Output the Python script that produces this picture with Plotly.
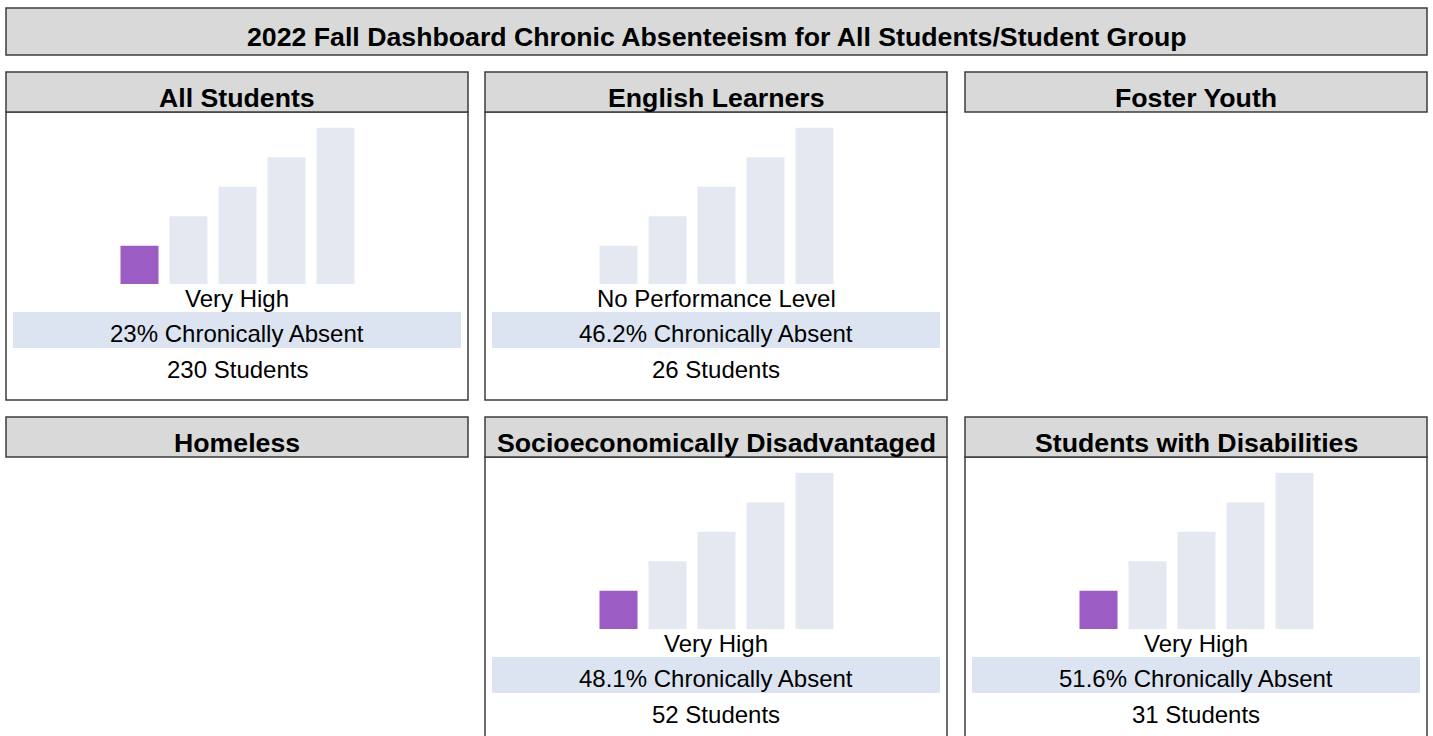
import plotly.graph_objects as go

# ---------------- data ----------------
title_text = "2022 Fall Dashboard Chronic Absenteeism for All Students/Student Group"
groups = ["All Students", "English Learners", "Foster Youth",
          "Homeless", "Socioeconomically Disadvantaged", "Students with Disabilities"]
status_levels = ["Very High", "No Performance Level", None, None, "Very High", "Very High"]
pct_absent = ["23%", "46.2%", None, None, "48.1%", "51.6%"]
n_students = [230, 26, None, None, 52, 31]
highlight_index = [0, None, None, None, 0, 0]
bar_positions = [0, 1, 2, 3, 4]
bar_heights = [1.3, 2.3, 3.3, 4.3, 5.3]

# ---------------- style / layout constants ----------------
W, H = 1433, 736
FONT = "Liberation Sans, Arial, sans-serif"
HEADER_FILL = "#D9D9D9"
BORDER = "#3C3C3C"
BAR_GRAY = "#E4E9F1"
BAR_PURPLE = "#9B5DC4"
BAND = "#DBE4F0"
HEAD_SIZE = 26.7
BODY_SIZE = 24

col_left = [6, 485, 965]
panel_w = 462
row_top = [72, 417]
header_h = 40
body_h = 288
px_per_unit = 29.5
y_max = 5.4


def fx(x):
    return x / W


def fy(y):
    return 1 - y / H


fig = go.Figure()
shapes = []
annotations = []

# overall title box
shapes.append(dict(type="rect", xref="paper", yref="paper",
                   x0=fx(6), x1=fx(1427), y0=fy(55), y1=fy(8),
                   fillcolor=HEADER_FILL, line=dict(color=BORDER, width=1.5), layer="below"))
annotations.append(dict(xref="paper", yref="paper", x=fx(716.5), y=fy(37.5),
                        text="<b>" + title_text + "</b>", showarrow=False,
                        xanchor="center", yanchor="middle",
                        font=dict(family=FONT, size=HEAD_SIZE, color="#000000")))

for i, g in enumerate(groups):
    r, c = divmod(i, 3)
    left = col_left[c]
    top = row_top[r]
    right = left + panel_w
    cx = left + panel_w / 2
    has_data = pct_absent[i] is not None

    if has_data:
        # body box
        shapes.append(dict(type="rect", xref="paper", yref="paper",
                           x0=fx(left), x1=fx(right), y0=fy(top + header_h + body_h), y1=fy(top + header_h),
                           fillcolor="rgba(0,0,0,0)", line=dict(color=BORDER, width=1.5), layer="below"))
        # highlight band
        shapes.append(dict(type="rect", xref="paper", yref="paper",
                           x0=fx(left + 7), x1=fx(right - 7), y0=fy(top + 276), y1=fy(top + 240),
                           fillcolor=BAND, line=dict(width=0), layer="below"))
    # header box
    shapes.append(dict(type="rect", xref="paper", yref="paper",
                       x0=fx(left), x1=fx(right), y0=fy(top + header_h), y1=fy(top),
                       fillcolor=HEADER_FILL, line=dict(color=BORDER, width=1.5), layer="below"))
    annotations.append(dict(xref="paper", yref="paper", x=fx(cx), y=fy(top + 25.5),
                            text="<b>" + g + "</b>", showarrow=False,
                            xanchor="center", yanchor="middle",
                            font=dict(family=FONT, size=HEAD_SIZE, color="#000000")))
    if not has_data:
        continue

    # bars on their own axes
    k = i + 1
    xa = "xaxis" if k == 1 else f"xaxis{k}"
    ya = "yaxis" if k == 1 else f"yaxis{k}"
    xr = "x" if k == 1 else f"x{k}"
    yr = "y" if k == 1 else f"y{k}"
    bottom = top + 212
    x0 = left + 109
    x1 = left + 354
    fig.update_layout(**{
        xa: dict(domain=[fx(x0), fx(x1)], range=[-0.5, 4.5], visible=False,
                 anchor=yr, fixedrange=True),
        ya: dict(domain=[fy(bottom), fy(bottom - y_max * px_per_unit)], range=[0, y_max],
                 visible=False, anchor=xr, fixedrange=True),
    })
    colors = [BAR_PURPLE if highlight_index[i] == j else BAR_GRAY for j in range(len(bar_positions))]
    fig.add_trace(go.Bar(x=bar_positions, y=bar_heights, xaxis=xr, yaxis=yr,
                         marker=dict(color=colors, line=dict(width=0)),
                         hoverinfo="skip", showlegend=False))

    lines = [(status_levels[i], top + 226),
             (f"{pct_absent[i]} Chronically Absent", top + 261),
             (f"{n_students[i]} Students", top + 297)]
    for txt, yy in lines:
        annotations.append(dict(xref="paper", yref="paper", x=fx(cx), y=fy(yy),
                                text=txt, showarrow=False, xanchor="center", yanchor="middle",
                                font=dict(family=FONT, size=BODY_SIZE, color="#000000")))

fig.update_layout(width=W, height=H, margin=dict(l=0, r=0, t=0, b=0),
                  paper_bgcolor="white", plot_bgcolor="white",
                  bargap=0.224, showlegend=False, hovermode=False,
                  shapes=shapes, annotations=annotations)

fig.write_html("out.html", config={"displayModeBar": False},
               post_script="document.body.style.margin='0';document.body.style.overflow='hidden';")
